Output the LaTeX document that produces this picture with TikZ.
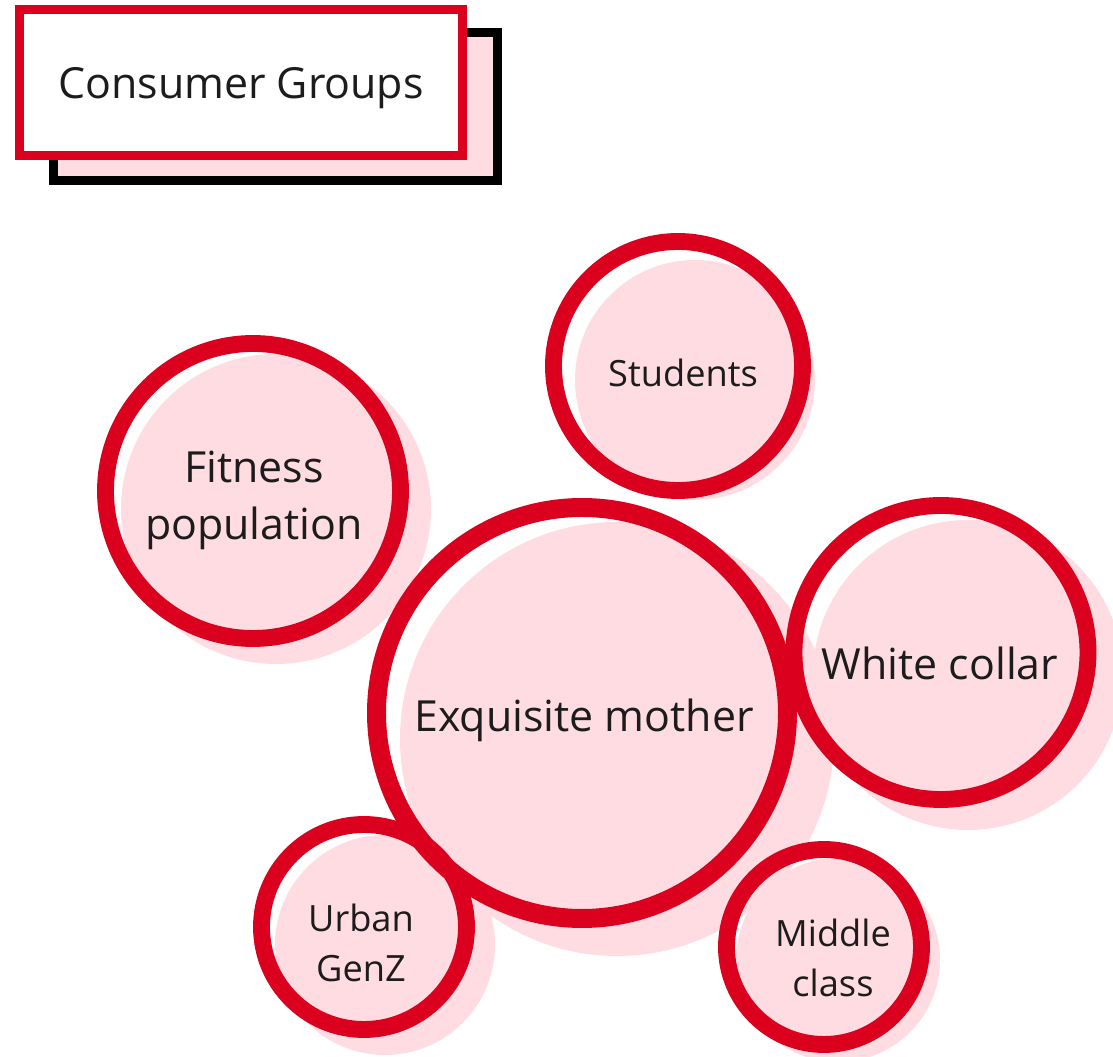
\documentclass[tikz,border=0pt]{standalone}
\usepackage{fontspec}
\setmainfont{Open Sans}

\definecolor{brandred}{RGB}{218,0,30}
\definecolor{blush}{RGB}{255,220,226}
\definecolor{ink}{RGB}{28,28,28}

\tikzset{
  backcard/.style={rectangle, draw=black, fill=blush, line width=2.55pt,
    minimum width=4.44cm, minimum height=1.48cm, inner sep=0pt},
  titlecard/.style={rectangle, draw=brandred, fill=white, line width=2.55pt,
    minimum width=4.435cm, minimum height=1.46cm, inner sep=0pt,
    font=\fontsize{12.2}{15}\selectfont, text=ink, text depth=0pt},
  shade/.style={circle, fill=blush, inner sep=0pt},
  ring/.style={circle, draw=brandred, line width=4.8pt, inner sep=0pt},
  bigtag/.style={font=\fontsize{12.2}{16.4}\selectfont, text=ink, align=center, anchor=base},
  smalltag/.style={font=\fontsize{10.3}{14.5}\selectfont, text=ink, align=center, anchor=base},
}

\begin{document}
\begin{tikzpicture}
    \useasboundingbox (0,0) rectangle (11.13,-10.57);

    % title card on its offset backing
    \node[backcard]  (title-back) at (2.755,-1.065) {};
    \node[titlecard] (title)      at (2.41,-0.825)  {Consumer Groups};

    % pink discs, shifted down and right
    \node[shade, minimum size=2.40cm] (students-shade) at (6.95,-3.80) {};
    \node[shade, minimum size=3.10cm] (fitness-shade)  at (2.76,-5.09) {};
    \node[shade, minimum size=4.34cm] (mother-shade)   at (6.17,-7.39) {};
    \node[shade, minimum size=3.10cm] (collar-shade)   at (9.68,-6.75) {};
    \node[shade, minimum size=2.20cm] (genz-shade)     at (3.85,-9.45) {};
    \node[shade, minimum size=2.04cm] (middle-shade)   at (8.38,-9.60) {};

    % red rings
    \node[ring, minimum size=2.49cm] (students) at (6.78,-3.66) {};
    \node[ring, minimum size=2.95cm] (fitness)  at (2.53,-4.91) {};
    \node[ring, minimum size=4.11cm, line width=5.4pt] (mother) at (5.82,-7.13) {};
    \node[ring, minimum size=2.94cm] (collar)   at (9.41,-6.525) {};
    \node[ring, minimum size=2.05cm] (genz)     at (3.64,-9.27) {};
    \node[ring, minimum size=1.95cm] (middle)   at (8.24,-9.47) {};

    % labels (base sits on the last line)
    \node[smalltag] (students-text) at (6.83,-3.87) {Students};
    \node[bigtag]   (fitness-text)  at (2.54,-5.40) {Fitness\\population};
    \node[bigtag]   (mother-text)   at (5.84,-7.32) {Exquisite mother};
    \node[bigtag]   (collar-text)   at (9.40,-6.80) {White collar};
    \node[smalltag] (genz-text)     at (3.61,-9.82) {Urban\\GenZ};
    \node[smalltag] (middle-text)   at (8.33,-9.97) {Middle\\class};
\end{tikzpicture}
\end{document}
